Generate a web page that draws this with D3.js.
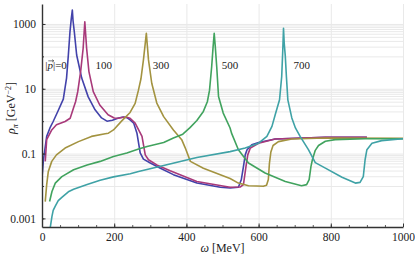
<!DOCTYPE html>
<html>
<head>
<meta charset="utf-8">
<script src="https://cdn.jsdelivr.net/npm/d3@7"></script>
<style>
  body { margin: 0; background: #fff; }
  text { font-family: "Liberation Serif", serif !important; fill: #222; }
  .grid line { stroke: #e9e9e9; stroke-width: 1; }
  .grid .domain { display: none; }
  .frame .domain { stroke: #333; stroke-width: 1.4; }
  .frame line { stroke: #333; }
</style>
</head>
<body>
<svg id="chart"></svg>
<script>
// omega [MeV] and rho_pi [GeV^-2], one pair of arrays per |p|
const omega0 = [0, 4, 13, 22, 31, 45, 59, 68, 73, 77.5, 81, 84, 86, 89.5, 96, 110, 128, 147, 165, 180, 195, 212, 225, 235, 244, 254, 263, 272, 281, 300, 328, 364, 429, 494, 521, 544, 552, 558, 563, 568, 581, 600, 646, 785, 900];
const rho0 = [0.0176, 0.0646, 0.339, 0.617, 0.977, 2.14, 4.79, 21.4, 110, 575, 1413, 2692, 1259, 575, 110, 21.4, 5.62, 2.24, 1.26, 1.0, 1.07, 1.26, 1.35, 1.29, 1.10, 0.871, 0.427, 0.105, 0.0676, 0.0513, 0.0355, 0.0224, 0.0123, 0.00912, 0.00871, 0.00912, 0.0155, 0.0398, 0.0912, 0.132, 0.186, 0.219, 0.282, 0.316, 0.316];

const omega100 = [9, 13, 27, 40, 64, 78, 87, 93, 99, 107, 114, 118.6, 123.6, 130, 142, 160, 183, 200, 211, 225, 235, 244, 258, 277, 286, 295, 318, 355, 429, 521, 549, 558, 565, 570, 577, 600, 646, 785, 900];
const rho100 = [0.0575, 0.269, 0.537, 0.776, 0.977, 1.23, 2.51, 3.98, 8.13, 33.9, 178, 1175, 178, 33.9, 8.13, 3.16, 1.58, 1.26, 1.23, 1.32, 1.32, 1.23, 0.871, 0.339, 0.0912, 0.0646, 0.0447, 0.0295, 0.0138, 0.00912, 0.00933, 0.011, 0.0398, 0.0912, 0.148, 0.209, 0.282, 0.316, 0.316];

const omega300 = [9, 13, 17.5, 27, 40, 64, 101, 137, 175, 184, 198, 221, 244, 258, 267, 274, 281, 286, 289, 292, 295, 304, 318, 337, 364, 387, 397, 411, 447, 521, 544, 572, 595, 613, 622, 627, 630, 634, 640, 655, 692, 785, 1000];
const rho300 = [0.00331, 0.011, 0.0282, 0.0575, 0.0912, 0.148, 0.234, 0.339, 0.407, 0.427, 0.537, 1.02, 1.86, 3.55, 8.91, 20.0, 77.6, 251, 513, 200, 77.6, 14.8, 3.63, 1.38, 0.537, 0.269, 0.148, 0.0575, 0.0355, 0.017, 0.0123, 0.0102, 0.01, 0.00977, 0.0105, 0.0158, 0.0501, 0.112, 0.178, 0.234, 0.282, 0.302, 0.295];

const omega500 = [21, 27.6, 36.8, 55, 87.5, 125, 161, 198, 235, 267.5, 291, 337, 364, 390, 410, 429, 447, 458, 464, 470, 474, 477, 480, 484, 489, 502, 521, 525, 544, 572, 618, 674, 719, 733, 740, 745, 749, 757, 766, 785, 812, 895, 1000];
const rho500 = [0.00331, 0.00676, 0.0123, 0.0195, 0.0316, 0.0447, 0.0575, 0.0813, 0.105, 0.138, 0.166, 0.219, 0.302, 0.398, 0.631, 1.05, 2.0, 3.98, 8.91, 47.9, 200, 513, 200, 47.9, 5.75, 1.78, 0.617, 0.427, 0.132, 0.0513, 0.0251, 0.0138, 0.0102, 0.011, 0.0158, 0.0398, 0.0646, 0.126, 0.178, 0.24, 0.269, 0.288, 0.288];

const omega700 = [23, 27.6, 31, 36.8, 45, 55, 73, 87.5, 125, 161, 198, 244.5, 267.5, 337, 429, 521, 563, 600, 623, 637, 646, 658, 664, 667, 669, 671, 674, 677, 681, 692, 702, 715, 738, 757, 785, 831, 868, 881, 890, 895, 900, 914, 941, 1000];
const rho700 = [0.000537, 0.00115, 0.00178, 0.0024, 0.00355, 0.00447, 0.00661, 0.00794, 0.0112, 0.0151, 0.0191, 0.024, 0.0282, 0.0427, 0.0759, 0.115, 0.148, 0.209, 0.339, 0.692, 1.58, 4.57, 24.0, 158, 741, 251, 100, 24.0, 4.57, 1.26, 0.617, 0.339, 0.132, 0.0525, 0.0355, 0.0186, 0.0123, 0.0129, 0.0195, 0.0646, 0.132, 0.209, 0.251, 0.288];

const seriesNames = ["0", "100", "300", "500", "700"];
const labelOmega = [9, 148, 307, 498, 697];   // where each |p| label starts
const labelRho = 54;
const colors = ["#4242aa", "#a8397a", "#a39340", "#41a35e", "#3fa2a6"];

const xTicks = [0, 200, 400, 600, 800, 1000];
const yTicks = [0.001, 0.1, 10, 1000];

const width = 415, height = 257;
const margin = { top: 4, right: 12, bottom: 30, left: 42 };

const svg = d3.select("#chart").attr("width", width).attr("height", height)
    .attr("viewBox", [0, 0, width, height]);

const xScale = d3.scaleLinear().domain([0, 1000]).range([margin.left, width - margin.right]);
const yScale = d3.scaleLog().domain([5.43e-4, 4130]).range([height - margin.bottom, margin.top]);

// grid lines: every 200 MeV, minor steps in alternate decades
const gridY = [0.001];
[0.01, 1, 100].forEach(b => { for (let k = 1; k <= 10; k++) gridY.push(b * k); });

svg.append("g").attr("class", "grid")
    .attr("transform", `translate(0,${ height - margin.bottom })`)
    .call(d3.axisBottom(xScale).tickValues(xTicks.slice(1))
        .tickSize(-(height - margin.top - margin.bottom)).tickFormat(() => ""));
svg.append("g").attr("class", "grid")
    .attr("transform", `translate(${ margin.left },0)`)
    .call(d3.axisLeft(yScale).tickValues(gridY)
        .tickSize(-(width - margin.left - margin.right)).tickFormat(() => ""));

// curves
svg.append("clipPath").attr("id", "plotclip").append("rect")
    .attr("x", margin.left).attr("y", margin.top)
    .attr("width", width - margin.left - margin.right)
    .attr("height", height - margin.top - margin.bottom);

const line = d3.line().x(d => xScale(d[0])).y(d => yScale(d[1]));
const series = [[omega0, rho0], [omega100, rho100], [omega300, rho300], [omega500, rho500], [omega700, rho700]];

const g = svg.append("g").attr("clip-path", "url(#plotclip)");
series.forEach(([w, r], i) => {
    g.append("path")
        .datum(w.map((v, j) => [v, r[j]]))
        .attr("fill", "none")
        .attr("stroke", colors[i])
        .attr("stroke-width", 1.6)
        .attr("stroke-linejoin", "round")
        .attr("d", line);
});

// frame axes
const serif = g2 => g2.attr("font-family", null).selectAll("text").attr("font-size", 11.5);

svg.append("g").attr("class", "frame")
    .attr("transform", `translate(0,${ height - margin.bottom })`)
    .call(d3.axisBottom(xScale).tickValues(d3.range(0, 1001, 50)).tickSize(-2).tickFormat(() => "").tickSizeOuter(0))
    .call(g2 => g2.selectAll(".tick line").attr("stroke-width", 0.8));
svg.append("g").attr("class", "frame")
    .attr("transform", `translate(0,${ height - margin.bottom })`)
    .call(d3.axisBottom(xScale).tickValues(xTicks).tickSize(-3.5).tickPadding(6).tickSizeOuter(0).tickFormat(d3.format("d")))
    .call(g2 => g2.select(".domain").remove())
    .call(serif);

svg.append("g").attr("class", "frame")
    .attr("transform", `translate(${ margin.left },0)`)
    .call(d3.axisLeft(yScale).tickValues([0.001, 0.01, 0.1, 1, 10, 100, 1000]).tickSize(-2).tickFormat(() => "").tickSizeOuter(0));
svg.append("g").attr("class", "frame")
    .attr("transform", `translate(${ margin.left },0)`)
    .call(d3.axisLeft(yScale).tickValues(yTicks).tickSize(-3.5).tickPadding(6).tickFormat(d => String(d)))
    .call(g2 => g2.select(".domain").remove())
    .call(serif);

// curve labels
seriesNames.forEach((s, i) => {
    const t = svg.append("text")
        .attr("x", xScale(labelOmega[i]))
        .attr("y", yScale(labelRho))
        .attr("dy", "0.35em")
        .attr("font-size", 11);
    if (i === 0) {
        t.append("tspan").text("|");
        t.append("tspan").attr("font-style", "italic").text("p");
        t.append("tspan").text("|=" + s);
        // little arrow over the p
        const node = t.node();
        const x0 = +t.attr("x") + node.getSubStringLength(0, 1);
        const pw = node.getSubStringLength(1, 1);
        const yb = yScale(labelRho) - 4.2;
        svg.append("path")
            .attr("d", `M${ x0 + 0.8 },${ yb }h${ pw }m-1.6,-1.2l1.6,1.2l-1.6,1.2`)
            .attr("fill", "none").attr("stroke", "#222").attr("stroke-width", 0.6);
    } else {
        t.text(s);
    }
});

// axis titles
svg.append("text")
    .attr("x", (margin.left + width - margin.right) / 2)
    .attr("y", height - 5)
    .attr("text-anchor", "middle")
    .attr("font-size", 12)
    .html('<tspan font-style="italic">ω</tspan> [MeV]');

svg.append("text")
    .attr("transform", `translate(15,${ 108 }) rotate(-90)`)
    .attr("text-anchor", "middle")
    .attr("font-size", 12)
    .html('<tspan font-style="italic">ρ</tspan><tspan font-size="8" dy="3" font-style="italic">π</tspan><tspan dy="-3"> [GeV</tspan><tspan font-size="8" dy="-4">−2</tspan><tspan dy="4">]</tspan>');
</script>
</body>
</html>
